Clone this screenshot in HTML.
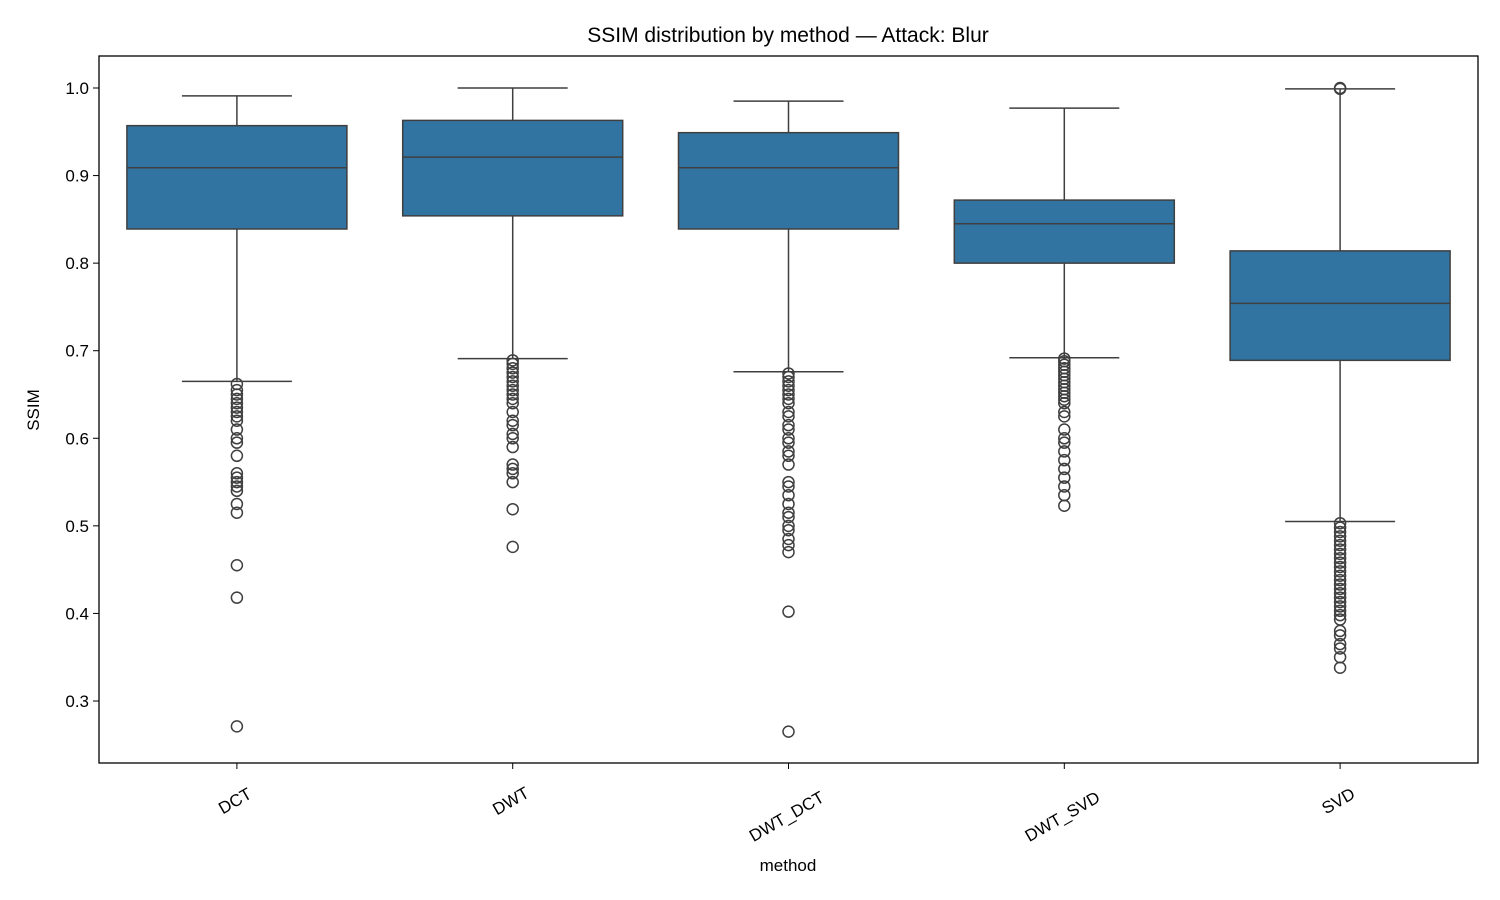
<!DOCTYPE html>
<html><head><meta charset="utf-8"><style>
body{margin:0;background:#fff;}
svg{display:block;font-family:"Liberation Sans","DejaVu Sans",sans-serif;}
</style></head><body>
<svg id="chart" width="1500" height="900"></svg>
<script>
const categories=["DCT","DWT","DWT_DCT","DWT_SVD","SVD"];
const q1=[0.839,0.854,0.839,0.800,0.689];
const medians=[0.909,0.921,0.909,0.845,0.754];
const q3=[0.957,0.963,0.949,0.872,0.814];
const whiskLow=[0.665,0.691,0.676,0.692,0.505];
const whiskHigh=[0.991,1.0,0.985,0.977,0.999];
const outliers=[
[0.662,0.655,0.65,0.645,0.64,0.635,0.63,0.625,0.62,0.61,0.6,0.595,0.58,0.56,0.555,0.55,0.545,0.54,0.525,0.515,0.455,0.418,0.271],
[0.689,0.685,0.68,0.675,0.67,0.665,0.66,0.655,0.65,0.645,0.64,0.63,0.62,0.615,0.605,0.6,0.59,0.57,0.565,0.56,0.55,0.519,0.476],
[0.674,0.67,0.665,0.66,0.655,0.65,0.645,0.64,0.63,0.625,0.615,0.61,0.6,0.595,0.585,0.58,0.57,0.55,0.545,0.535,0.525,0.515,0.51,0.5,0.495,0.485,0.478,0.47,0.402,0.265],
[0.691,0.688,0.684,0.68,0.676,0.672,0.668,0.664,0.66,0.656,0.652,0.648,0.644,0.64,0.63,0.625,0.61,0.6,0.595,0.585,0.575,0.565,0.555,0.545,0.535,0.523],
[1.0,0.999,0.503,0.498,0.493,0.488,0.483,0.478,0.473,0.468,0.463,0.458,0.453,0.448,0.443,0.438,0.433,0.428,0.423,0.418,0.413,0.408,0.403,0.398,0.393,0.38,0.375,0.365,0.36,0.35,0.338]
];
const yTicks=[0.3,0.4,0.5,0.6,0.7,0.8,0.9,1.0];
const tickLabels=["0.3","0.4","0.5","0.6","0.7","0.8","0.9","1.0"];

const NS="http://www.w3.org/2000/svg";
const svg=document.getElementById("chart");
const L=99,R=1478,T=56,B=763;
const y=v=>88+(1.0-v)*875.7;
const step=(R-L)/categories.length;
const x=i=>L+step*(i+0.5);
const bw=220;
function el(t,a,p){const e=document.createElementNS(NS,t);for(const k in a)e.setAttribute(k,a[k]);(p||svg).appendChild(e);return e;}

const title=el("text",{x:788,y:42,"text-anchor":"middle","font-size":"21"});
title.textContent="SSIM distribution by method — Attack: Blur";



yTicks.forEach((v,i)=>{
 const tk=el("line",{x1:L-6,x2:L,y1:y(v),y2:y(v),stroke:"#000","stroke-width":1});
 
 
 const t=el("text",{x:L-10,y:y(v)+6,"text-anchor":"end","font-size":"17"});
 t.textContent=tickLabels[i];
 
 
});

categories.forEach((c,i)=>{
 const cx=x(i);
 const g=el("g",{});
 
 
 el("line",{x1:cx,x2:cx,y1:y(q3[i]),y2:y(whiskHigh[i]),stroke:"#3f3f3f","stroke-width":1.5},g);
 el("line",{x1:cx,x2:cx,y1:y(q1[i]),y2:y(whiskLow[i]),stroke:"#3f3f3f","stroke-width":1.5},g);
 el("line",{x1:cx-bw/4,x2:cx+bw/4,y1:y(whiskHigh[i]),y2:y(whiskHigh[i]),stroke:"#3f3f3f","stroke-width":1.5},g);
 el("line",{x1:cx-bw/4,x2:cx+bw/4,y1:y(whiskLow[i]),y2:y(whiskLow[i]),stroke:"#3f3f3f","stroke-width":1.5},g);
 el("rect",{x:cx-bw/2,y:y(q3[i]),width:bw,height:y(q1[i])-y(q3[i]),fill:"#3274a1",stroke:"#3f3f3f","stroke-width":1.5},g);
 el("line",{x1:cx-bw/2,x2:cx+bw/2,y1:y(medians[i]),y2:y(medians[i]),stroke:"#3f3f3f","stroke-width":1.5},g);
 outliers[i].forEach(v=>{
  const o=el("circle",{cx:cx,cy:y(v),r:5.5,fill:"none",stroke:"#3f3f3f","stroke-width":1.5},g);
  
  
 });
 const tk=el("line",{x1:cx,x2:cx,y1:B,y2:B+6,stroke:"#000","stroke-width":1});
 
 
 const ly=B+26+c.length*3.9;
 const t=el("text",{x:cx-2,y:ly+6,"text-anchor":"middle","font-size":"17",transform:`rotate(-30 ${cx-2} ${ly})`});
 t.textContent=c;
 
 
});

const frame=el("rect",{x:L,y:T,width:R-L,height:B-T,fill:"none",stroke:"#000","stroke-width":1.3});



const yl=el("text",{x:39,y:410,"text-anchor":"middle","font-size":"17",transform:"rotate(-90 39 410)"});
yl.textContent="SSIM";


const xl=el("text",{x:788,y:871,"text-anchor":"middle","font-size":"17"});
xl.textContent="method";


</script>
</body></html>
